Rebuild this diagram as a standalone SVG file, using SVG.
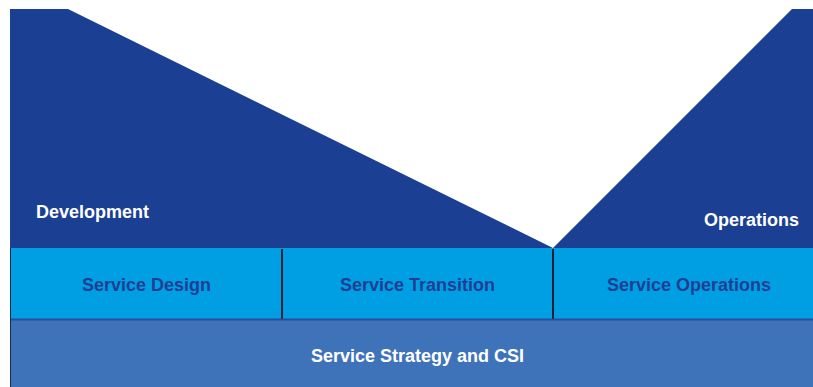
<svg xmlns="http://www.w3.org/2000/svg" width="813" height="387" viewBox="0 0 813 387">
<style>
.dark{fill:#1b3f92}
.cell{fill:#009fe3}
.base{fill:#3e73b9}
.t{font-family:"Liberation Sans",Arial,sans-serif;font-weight:bold;font-size:18px}
.w{fill:#ffffff}
.b{fill:#1e3f94}
.div{stroke:#0d2233;stroke-width:2}
</style>
<rect width="813" height="387" fill="#ffffff"/>
<g id="development">
<polygon class="dark" points="10,9 68,9 553,248 10,248"/>
<text class="t w" x="36" y="218">Development</text>
</g>
<g id="operations">
<polygon class="dark" points="553,248 792,9 813,9 813,248"/>
<text class="t w" x="799" y="226" text-anchor="end">Operations</text>
</g>
<g id="service-strategy">
<rect class="base" x="10" y="319" width="803" height="68"/>
<text class="t w" x="417.5" y="362" text-anchor="middle">Service Strategy and CSI</text>
</g>
<g id="service-design">
<rect class="cell" x="10" y="248" width="272" height="71"/>
<text class="t b" x="146.5" y="291" text-anchor="middle">Service Design</text>
</g>
<g id="service-transition">
<rect class="cell" x="282" y="248" width="271" height="71"/>
<text class="t b" x="417.5" y="291" text-anchor="middle">Service Transition</text>
</g>
<g id="service-operations">
<rect class="cell" x="553" y="248" width="260" height="71"/>
<text class="t b" x="689" y="291" text-anchor="middle">Service Operations</text>
</g>
<g id="connectors">
<line class="div" x1="282" y1="249" x2="282" y2="320"/>
<line class="div" x1="553" y1="249" x2="553" y2="320"/>
<line x1="10" y1="319.5" x2="813" y2="319.5" stroke="#2a4c9e" stroke-width="2"/>
<line x1="10.5" y1="248" x2="10.5" y2="387" stroke="#1a2d55" stroke-width="1"/>
</g>
</svg>
